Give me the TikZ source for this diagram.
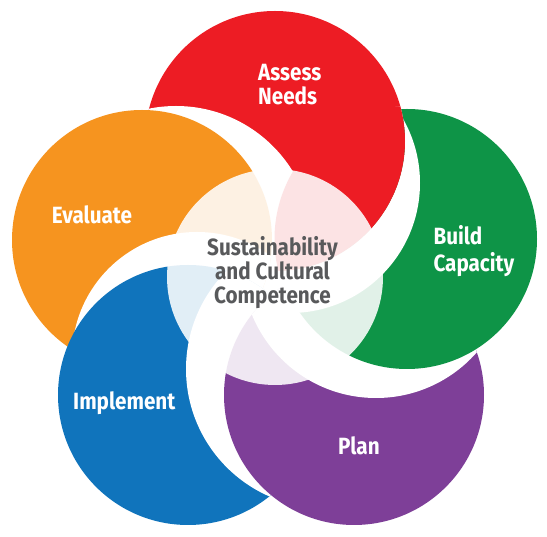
\documentclass[tikz,border=0pt]{standalone}
\usepackage{fontspec}
\setmainfont{Fira Sans}[FakeStretch=0.88]
\definecolor{cred}{HTML}{ED1C24}
\definecolor{corange}{HTML}{F6941F}
\definecolor{cblue}{HTML}{1074BC}
\definecolor{cpurple}{HTML}{7E3F98}
\definecolor{cgreen}{HTML}{0E9447}
\definecolor{ctext}{HTML}{58595B}
\begin{document}
\begin{tikzpicture}[x=1pt,y=-1pt,
  lbl/.style={text=white, inner sep=0pt, anchor=base west, font=\fontsize{23.5}{24}\selectfont\bfseries},
  ctr/.style={text=ctext, inner sep=0pt, anchor=base, font=\fontsize{23.5}{24}\selectfont\bfseries},
  band/.style={fill=white}]
\useasboundingbox (0,0) rectangle (547,537);
\def\R{130pt}
% circle centres
\coordinate (cR) at (275,141);
\coordinate (cO) at (142,240);
\coordinate (cB) at (188,395);
\coordinate (cP) at (354,395);
\coordinate (cG) at (407,239);
% red (bottom of the cycle)
\fill[cred] (cR) circle[radius=\R];
% orange over red
\begin{scope}
  \clip (cR) circle[radius=\R];
  \fill[band] (176,243) circle[radius=137pt];
\end{scope}
\fill[corange] (cO) circle[radius=\R];
% blue over orange
\begin{scope}
  \clip (cO) circle[radius=\R];
  \fill[band] (197,357) circle[radius=125pt];
\end{scope}
\fill[cblue] (cB) circle[radius=\R];
% purple over blue
\begin{scope}
  \clip (cB) circle[radius=\R];
  \fill[band] (325,369) circle[radius=139pt];
\end{scope}
\fill[cpurple] (cP) circle[radius=\R];
% green over purple
\begin{scope}
  \clip (cP) circle[radius=\R];
  \fill[band] (376,264) circle[radius=134pt];
\end{scope}
\fill[cgreen] (cG) circle[radius=\R];
% red over green (closing the cycle)
\begin{scope}
  \clip (cG) circle[radius=132.5pt];
  \fill[band, even odd rule] (290,183) circle[radius=130pt] (cR) circle[radius=\R];
  \fill[cred] (cR) circle[radius=\R];
\end{scope}
% pale centre
\fill[white, opacity=0.88] (275,277) circle[radius=108pt];
% labels
\node[lbl] (assess) at (258,80.4) {Assess};
\node[lbl] (needs) at (258,104.3) {Needs};
\node[lbl] (evaluate) at (51.7,223.3) {Evaluate};
\node[lbl] (build) at (433.3,245) {Build};
\node[lbl] (capacity) at (433.3,271.7) {Capacity};
\node[lbl] (implement) at (73,410) {Implement};
\node[lbl] (plan) at (338,455) {Plan};
\node[ctr] (sust) at (272.5,256) {Sustainability};
\node[ctr] (cult) at (272.5,280) {and Cultural};
\node[ctr] (comp) at (272.5,304) {Competence};
\end{tikzpicture}
\end{document}
